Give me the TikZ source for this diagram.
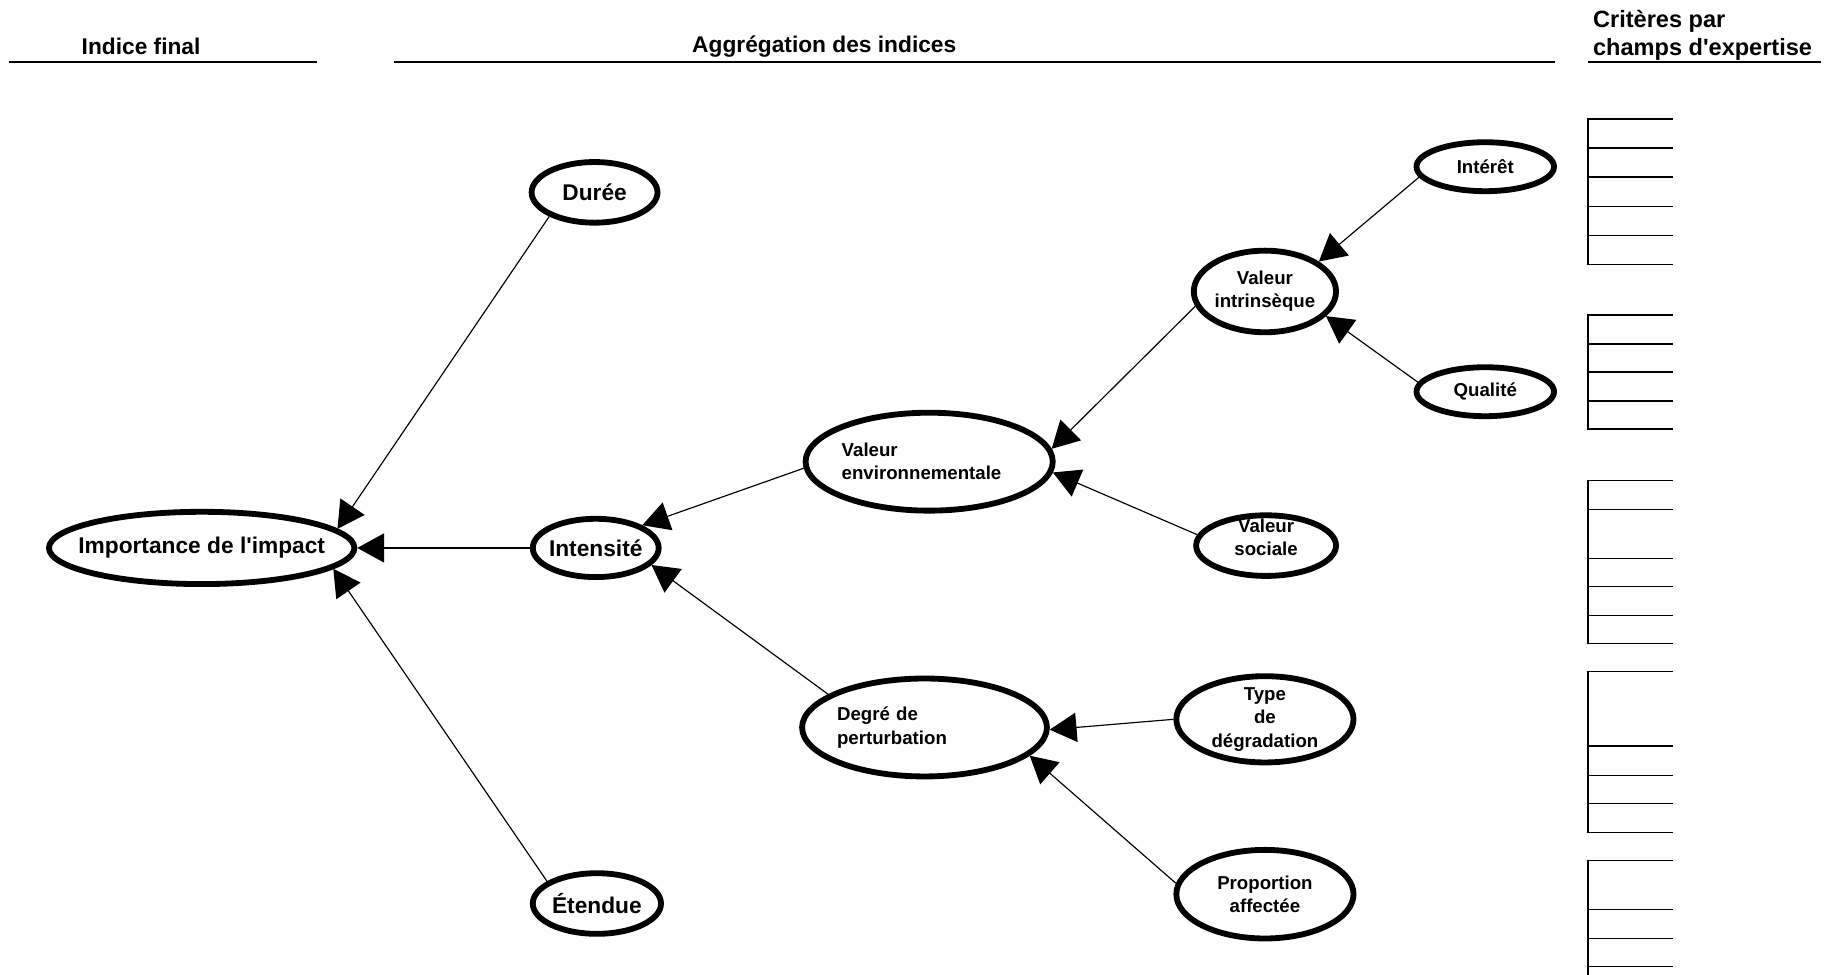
\documentclass[tikz,border=0pt]{standalone}
\usepackage{fontspec}
\setmainfont{Liberation Sans}
\usetikzlibrary{shapes.geometric,arrows.meta}
\tikzstyle{indice}=[draw,ellipse,line width=5pt,inner sep=0pt]
\tikzstyle{petit}=[font=\fontsize{16}{20}\selectfont\bfseries,align=center]
\tikzstyle{grand}=[font=\fontsize{19.5}{23}\selectfont\bfseries,align=center]
\tikzstyle{titre}=[font=\fontsize{19.5}{24}\selectfont\bfseries]
\tikzstyle{agreg}=[line width=1pt,-{Triangle[length=23pt,width=25pt]}]
\newcommand{\drawcriteria}[3]{
\draw[line width=1.8pt] (1362,#1) -- (1362,#2);
    \foreach \y in {#3} {
      \draw[line width=1.3pt] (1361,\y) -- (1435,\y);
    }
}

\begin{document}
\begin{tikzpicture}[x=1pt,y=-1pt]
	\useasboundingbox (0,0) rectangle (1568,836);
	% titres
	\node[titre] (final) at (121,40) {Indice final};
	\node[titre] (aggreg) at (707,40) {Aggrégation des indices};
	\node[titre,font=\fontsize{20.2}{24}\selectfont\bfseries,align=left,anchor=west] (criteres) at (1363,30) {Critères par\\champs d\textquotesingle expertise};
	\draw[line width=1.8pt] (8,53) -- (272,53);
	\draw[line width=1.8pt] (338,53) -- (1334,53);
	\draw[line width=1.8pt] (1362,53) -- (1562,53);
	% indices
	\node[indice,minimum width=262,minimum height=62,label={[grand]center:Importance de l\textquotesingle impact}] (imp) at (173,470) {};
	\node[indice,minimum width=108,minimum height=52,label={[grand]center:Durée}] (duree) at (510,165) {};
	\node[indice,minimum width=108,minimum height=50,label={[grand]center:Intensité}] (intens) at (511,470) {};
	\node[indice,minimum width=110,minimum height=52,label={[grand]center:Étendue}] (etendue) at (512,775) {};
	\node[indice,minimum width=212,minimum height=84,label={[petit,align=left,text width=150pt]center:Valeur\\environnementale}] (venv) at (797,396) {};
	\node[indice,minimum width=210,minimum height=84,label={[petit,align=left,text width=150pt]center:Degré de\\perturbation}] (degre) at (793,624) {};
	\node[indice,minimum width=122,minimum height=70,label={[petit]center:Valeur\\intrinsèque}] (vintr) at (1085,250) {};
	\node[indice,minimum width=120,minimum height=52,label={[petit,yshift=7pt]center:Valeur\\sociale}] (vsoc) at (1086,468) {};
	\node[indice,minimum width=118,minimum height=42,label={[petit]center:Intérêt}] (interet) at (1274,143) {};
	\node[indice,minimum width=118,minimum height=42,label={[petit]center:Qualité}] (qualite) at (1274,336) {};
	\node[indice,minimum width=152,minimum height=74,label={[petit]center:Type\\de\\dégradation}] (type) at (1085,617) {};
	\node[indice,minimum width=152,minimum height=76,label={[petit]center:Proportion\\affectée}] (prop) at (1085,767) {};
	% agregation
	\draw[agreg] (duree.208) -- (imp.8);
	\draw[agreg] (intens.west) -- (imp.east);
	\draw[agreg] (etendue.156) -- (imp.-9);
	\draw[agreg] (venv.183) -- (intens.26);
	\draw[agreg] (degre.161) -- (intens.-17);
	\draw[agreg] (vintr.192) -- (venv.6);
	\draw[agreg] (vsoc.171) -- (venv.-5);
	\draw[agreg] (interet.189) -- (vintr.29);
	\draw[agreg] (qualite.172) -- (vintr.-22);
	\draw[agreg] (type.west) -- (degre.-1);
	\draw[agreg] (prop.173) -- (degre.-15);
	% criteres par champs
	\drawcriteria{102}{227}{102,127,152,177,202,227}
	\drawcriteria{270}{368}{270,295,319,344,368}
	\drawcriteria{412}{552}{412,437,479,503,528,552}
	\drawcriteria{576}{714}{576,640,665,689,714}
	\drawcriteria{738}{836}{738,780,805,829}
\end{tikzpicture}
\end{document}
